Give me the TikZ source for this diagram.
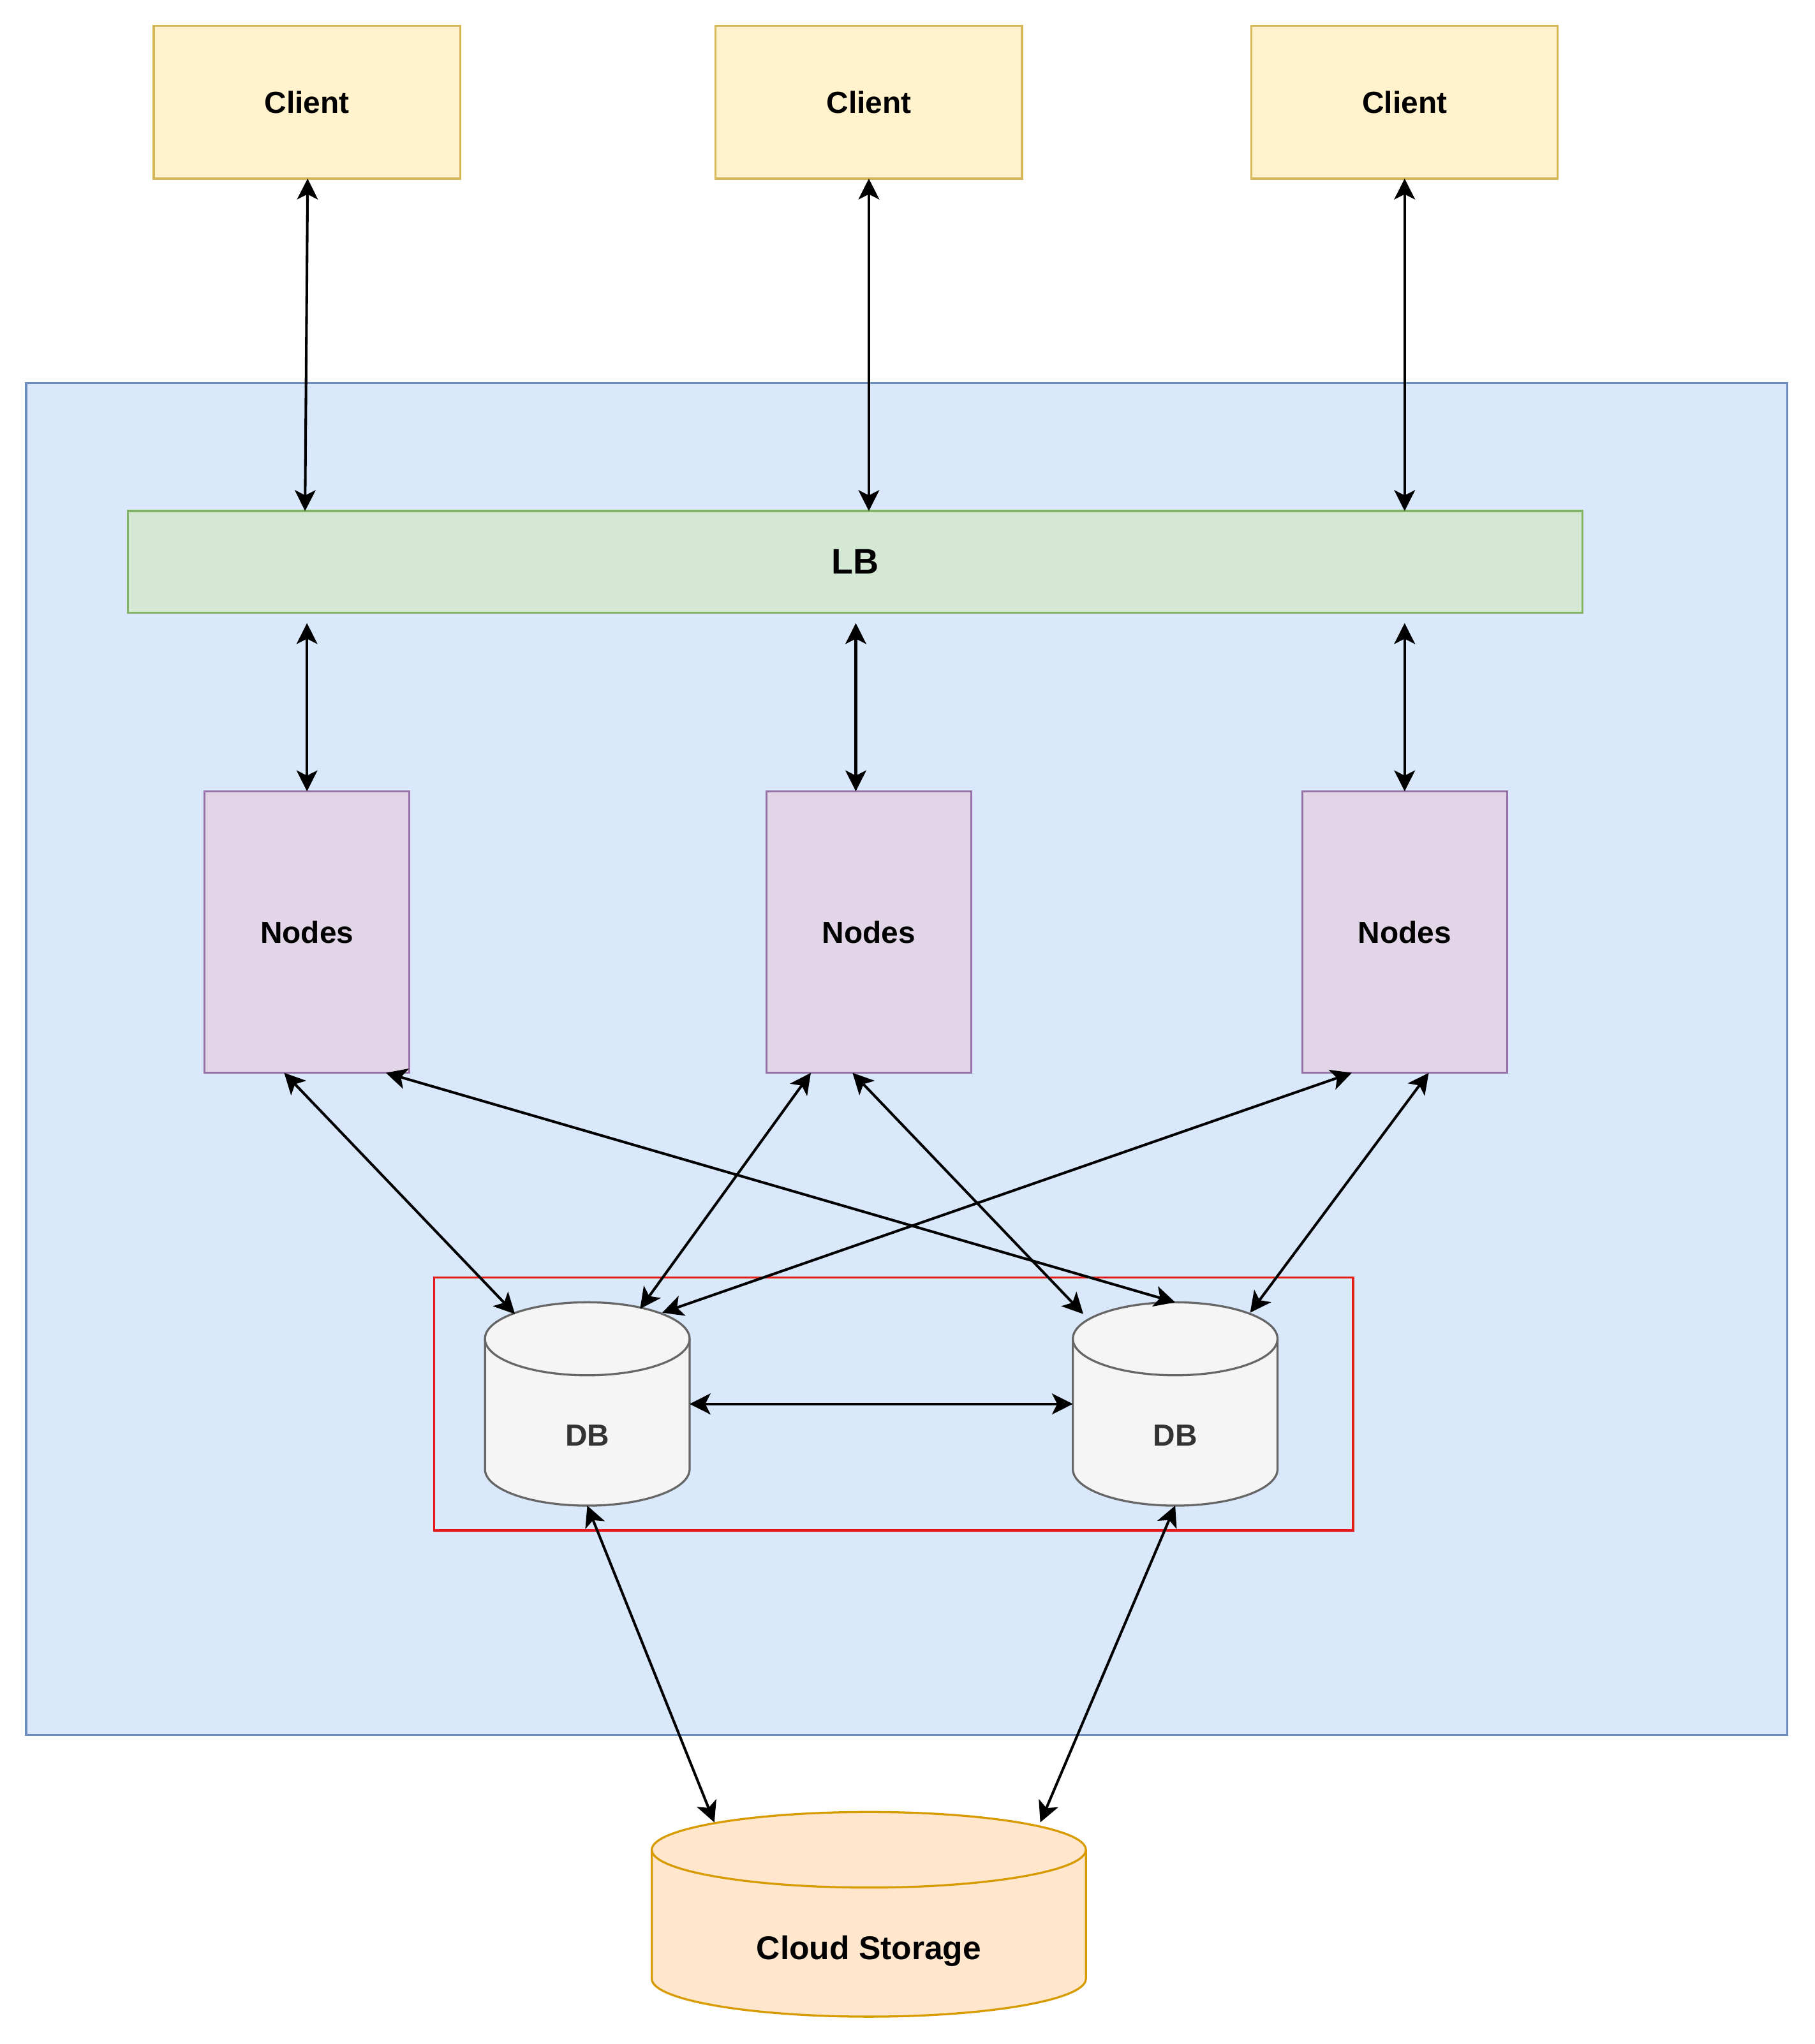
\documentclass[tikz,border=0pt]{standalone}
\usepackage{fontspec}
\setmainfont{Liberation Sans}
\usetikzlibrary{calc,arrows.meta}

\definecolor{clientfill}{HTML}{FFF2CC}
\definecolor{clientline}{HTML}{D6B656}
\definecolor{zonefill}{HTML}{DAE8FC}
\definecolor{zoneline}{HTML}{6C8EBF}
\definecolor{lbfill}{HTML}{D5E8D4}
\definecolor{lbline}{HTML}{82B366}
\definecolor{nodefill}{HTML}{E1D5E7}
\definecolor{nodeline}{HTML}{9673A6}
\definecolor{dbfill}{HTML}{F5F5F5}
\definecolor{dbline}{HTML}{666666}
\definecolor{dbtext}{HTML}{333333}
\definecolor{storefill}{HTML}{FFE6CC}
\definecolor{storeline}{HTML}{D79B00}
\definecolor{groupline}{HTML}{E51A1A}

% vertical cylinder drawn around a (text-free) node:
% #1 node name, #2 horizontal radius, #3 vertical radius of the caps, #4 style
\newcommand{\cylinderaround}[4]{%
  \path[#4] ($(#1.north west)+(0,-#3)$) -- ($(#1.south west)+(0,#3)$)
    arc[start angle=180,end angle=360,x radius=#2,y radius=#3]
    -- ($(#1.north east)+(0,-#3)$)
    arc[start angle=0,end angle=180,x radius=#2,y radius=#3] -- cycle;
  \draw[#4,fill=none] ($(#1.north west)+(0,-#3)$)
    arc[start angle=180,end angle=360,x radius=#2,y radius=#3];
}

\begin{document}
\begin{tikzpicture}[x=0.5pt,y=0.5pt,
  box/.style={draw, line width=0.8pt, inner sep=0pt, outer sep=0pt,
    font=\bfseries\fontsize{11.7}{14}\selectfont},
  client/.style={box, fill=clientfill, draw=clientline,
    minimum width=117.5pt, minimum height=58.5pt},
  balancer/.style={box, fill=lbfill, draw=lbline,
    minimum width=558pt, minimum height=39pt,
    font=\bfseries\fontsize{13.6}{16}\selectfont},
  worker/.style={box, fill=nodefill, draw=nodeline,
    minimum width=78.5pt, minimum height=108pt},
  cylbody/.style={inner sep=0pt, outer sep=0pt},
  dbshape/.style={draw=dbline, fill=dbfill, line width=0.8pt},
  storeshape/.style={draw=storeline, fill=storefill, line width=0.8pt},
  dblabel/.style={text=dbtext, font=\bfseries\fontsize{11.7}{14}\selectfont, inner sep=0pt},
  storelabel/.style={font=\bfseries\fontsize{12.6}{15}\selectfont, inner sep=0pt},
  link/.style={line width=1pt,
    {Stealth[length=8pt,width=8pt,inset=2pt]}-{Stealth[length=8pt,width=8pt,inset=2pt]}}
]
\useasboundingbox (0,0) rectangle (1392,-1568);

% cluster background and database group frame
\node[draw=zoneline, fill=zonefill, line width=0.8pt, inner sep=0pt, outer sep=0pt,
      minimum width=675.5pt, minimum height=518.5pt] (cluster) at (695.5,-812.5) {};
\node[draw=groupline, line width=0.8pt, inner sep=0pt, outer sep=0pt,
      minimum width=352.5pt, minimum height=97pt] (dbgroup) at (685.5,-1077) {};

% clients
\node[client] (c1) at (235.5,-78.5) {Client};
\node[client] (c2) at (666.5,-78.5) {Client};
\node[client] (c3) at (1077.5,-78.5) {Client};

% load balancer
\node[balancer] (lb) at (656,-431) {LB};

% application nodes
\node[worker] (n1) at (235.5,-715) {Nodes};
\node[worker] (n2) at (666.5,-715) {Nodes};
\node[worker] (n3) at (1077.5,-715) {Nodes};

% databases
\node[cylbody, minimum width=78.5pt, minimum height=78pt] (db1) at (450.5,-1077) {};
\node[cylbody, minimum width=78.5pt, minimum height=78pt] (db2) at (901.5,-1077) {};
\cylinderaround{db1}{78.5}{28}{dbshape}
\cylinderaround{db2}{78.5}{28}{dbshape}
\node[dblabel] (db1text) at ($(db1.center)+(0,-24)$) {DB};
\node[dblabel] (db2text) at ($(db2.center)+(0,-24)$) {DB};

% cloud storage
\node[cylbody, minimum width=166.5pt, minimum height=78.5pt] (store) at (666.5,-1468.5) {};
\cylinderaround{store}{166.5}{29}{storeshape}
\node[storelabel] (storetext) at ($(store.center)+(0,-28)$) {Cloud Storage};

% clients <-> load balancer
\draw[link] ($(c1.south)+(0.5,0)$) -- ($(c1.south |- lb.north)+(-1.5,0)$);
\draw[link] (c2.south) -- (c2.south |- lb.north);
\draw[link] (c3.south) -- (c3.south |- lb.north);

% load balancer <-> nodes
\draw[link] ($(lb.south -| n1.north)+(0,-8)$) -- (n1.north);
\draw[link] ($(lb.south -| n2.north)+(-10,-8)$) -- ($(n2.north)+(-10,0)$);
\draw[link] ($(lb.south -| n3.north)+(0,-8)$) -- (n3.north);

% nodes <-> databases
\draw[link] ($(n1.south)+(-17.5,0)$) -- ($(db1.north)+(-55.5,-9)$);
\draw[link] ($(n1.south)+(60.5,0)$) -- (db2.north);
\draw[link] ($(n2.south)+(-44.5,0)$) -- ($(db1.north)+(40.5,-5)$);
\draw[link] ($(n2.south)+(-12.5,0)$) -- ($(db2.north)+(-70.5,-9)$);
\draw[link] ($(n3.south)+(-40.5,0)$) -- ($(db1.north)+(57.5,-8)$);
\draw[link] ($(n3.south)+(18.5,0)$) -- ($(db2.north)+(57.5,-8)$);

% database replication
\draw[link] (db1.east) -- (db2.west);

% databases <-> cloud storage
\draw[link] (db1.south) -- ($(store.north)+(-118.5,-8)$);
\draw[link] (db2.south) -- ($(store.north)+(131.5,-8)$);
\end{tikzpicture}
\end{document}
